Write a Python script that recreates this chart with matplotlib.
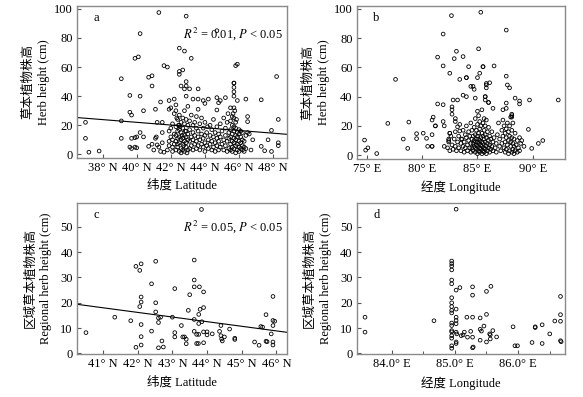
import matplotlib
matplotlib.use('Agg')
import matplotlib.pyplot as plt
from matplotlib.ticker import FixedLocator

plt.rcParams['font.family'] = ['Liberation Serif', 'Noto Sans CJK SC']
plt.rcParams['mathtext.fontset'] = 'stix'

# ---- panel a: latitude vs herb height ----
a_lat = [37.0, 37.0, 37.2, 37.8, 39.1, 39.1, 39.1, 39.6, 39.6, 39.7, 39.9, 40.1, 40.2, 40.2, 40.4,
         39.7, 39.9, 40.0, 40.2, 40.4, 39.6, 39.7, 39.9, 40.0, 40.7, 40.9, 40.9, 41.1, 40.7, 40.9,
         41.1, 41.15, 41.3, 41.2, 41.0, 41.3, 41.4, 41.6, 41.6, 41.8, 41.9, 41.4, 41.5, 41.5, 41.5, 41.2,
         42.9, 42.5, 42.8, 43.2, 42.5, 42.5, 42.7, 42.9, 42.9, 42.6, 42.8, 43.1, 44.7, 43.6, 45.8, 45.9,
         45.7, 45.7, 45.7, 45.7, 42.9, 43.3, 43.6, 43.9, 44.2, 44.7, 44.8, 44.9, 45.2, 45.7, 45.9, 46.4,
         45.5, 45.7, 44.7, 42.2, 42.3, 41.9, 43.6, 44.0, 46.5, 46.5, 47.3, 48.2, 48.3, 47.9, 48.3, 48.3,
         47.7, 47.3, 47.5, 47.9, 46.6, 46.7, 46.8,
         41.8, 41.9, 41.9, 42.0, 42.0, 42.1, 42.1, 42.1, 42.2, 42.2, 42.0, 42.1, 41.9, 42.2,
         42.3, 42.3, 42.3, 42.3, 42.4, 42.4, 42.4, 42.4, 42.5, 42.5, 42.5, 42.5, 42.5, 42.6, 42.6, 42.6,
         42.6, 42.3, 42.4, 42.5, 42.6, 42.45, 42.55, 42.35,
         42.7, 42.7, 42.7, 42.7, 42.7, 42.8, 42.8, 42.8, 42.8, 42.8, 42.9, 42.9, 42.9, 42.9, 42.9, 43.0,
         43.0, 43.0, 43.0, 43.0, 42.75, 42.85, 42.95, 42.65,
         43.1, 43.1, 43.1, 43.1, 43.2, 43.2, 43.2, 43.3, 43.3, 43.3, 43.3, 43.4, 43.4, 43.4, 43.5, 43.5,
         43.5, 43.5, 43.6, 43.6, 43.6,
         43.7, 43.7, 43.7, 43.8, 43.8, 43.8, 43.9, 43.9, 43.9, 44.0, 44.0, 44.0, 44.0, 44.1, 44.1, 44.2,
         44.2, 44.15,
         44.3, 44.3, 44.3, 44.4, 44.4, 44.4, 44.5, 44.5, 44.5, 44.6, 44.6, 44.6, 44.7, 44.7, 44.7, 44.8,
         44.8, 44.8,
         44.9, 44.9, 44.9, 45.0, 45.0, 45.1, 45.1, 45.1, 45.2, 45.2, 45.2, 45.3, 45.3, 45.3, 45.4, 45.4,
         45.4, 45.35,
         45.5, 45.5, 45.5, 45.5, 45.5, 45.6, 45.6, 45.6, 45.6, 45.6, 45.6, 45.7, 45.7, 45.7, 45.7, 45.7,
         45.7, 45.8, 45.8, 45.8, 45.8, 45.8, 45.8, 45.9, 45.9, 45.9, 45.9, 46.0, 46.0, 46.0, 46.0, 46.0,
         46.1, 46.1, 46.1, 46.1, 46.2, 46.2, 46.2, 46.2, 45.75, 45.65, 45.85,
         46.3, 46.3, 46.3, 46.4, 46.4, 46.5]
a_h = [22, 11, 1.5, 2.3, 52, 23, 11, 40.5, 29, 27, 66, 67, 83, 40, 30,
       11, 11.5, 12, 15, 12, 5, 4, 5, 4.5, 53, 54, 47, 31, 5.5, 7,
       11, 12, 97.5, 22, 3, 5, 2, 1.5, 61, 60, 37, 36, 22, 15, 8, 6.5,
       95, 73, 71, 66, 57, 55, 58, 50, 47, 47, 45, 45, 85, 45, 61, 62,
       49, 49, 46, 43, 40, 38, 38, 37, 38, 39, 35.5, 37, 39, 40, 37, 38,
       32, 32, 30.5, 38, 34, 31, 31, 35, 26, 22.5, 37.5, 53.5, 24, 16.5, 8, 6,
       10, 5.5, 2.5, 2, 14, 3, 10,
       3, 6, 9, 12, 18, 5, 10, 21, 14, 28, 32, 2, 16, 7,
       3, 9, 13, 19, 5, 11, 24, 16, 2, 8, 12, 20, 27, 4, 10, 15,
       22, 30, 7, 17, 1, 20, 19, 25,
       3, 7, 11, 18, 25, 2, 9, 13, 21, 30, 5, 8, 12, 16, 24, 3,
       10, 14, 20, 33, 6, 16, 1, 13,
       4, 9, 17, 23, 6, 12, 27, 3, 10, 15, 20, 7, 13, 22, 4, 9,
       18, 26, 6, 12, 16,
       3, 10, 21, 7, 14, 25, 5, 11, 18, 2, 8, 13, 22, 6, 15, 10,
       4, 19,
       7, 13, 20, 3, 9, 17, 5, 12, 24, 2, 8, 15, 6, 11, 19, 3,
       9, 14,
       5, 12, 21, 7, 16, 3, 10, 25, 6, 13, 18, 2, 9, 22, 4, 11,
       15, 28,
       3, 7, 12, 17, 23, 2, 5, 9, 14, 20, 26, 4, 8, 11, 16, 19,
       25, 1, 6, 10, 13, 18, 22, 3, 7, 12, 15, 2, 5, 9, 14, 17,
       4, 8, 12, 16, 3, 6, 10, 15, 30, 28, 24,
       2, 5, 9, 13, 4, 15]
a_fit = [25.3 + 0.935 * 36.5, -0.935]  # intercept, slope

# ---- panel b: longitude vs herb height ----
b_lon = [74.8, 74.9, 75.1, 75.9, 76.9, 77.6, 78.3, 78.7, 78.8, 79.5, 79.5, 80.1, 80.4, 80.5, 80.9,
         80.9, 80.9, 80.9, 81.0, 81.2, 81.2, 81.4, 81.4, 81.9, 81.9, 81.9, 81.9, 82.0, 82.0, 82.4,
         82.4, 82.5, 82.5, 82.65, 82.5, 82.7, 82.7, 82.7, 82.8, 82.9, 83.1, 83.0, 83.0, 83.2, 83.4,
         83.2, 83.4, 83.7, 83.7, 84.0, 84.0, 84.0, 83.55, 84.2, 84.4, 84.6, 84.7, 84.8, 85.0, 85.1,
         85.2, 85.3, 85.5, 85.5, 85.8, 85.8, 85.8, 86.1, 85.7, 85.7, 85.7, 86.0, 86.0, 86.5, 86.4,
         87.6, 87.6, 87.7, 87.9, 87.6, 87.6, 88.1, 88.1, 88.1, 87.3, 88.4, 88.8, 88.8, 89.7, 92.3,
         89.6, 89.9, 90.5, 90.9, 89.2, 88.8, 89.0,
         82.3, 82.4, 82.5, 82.6, 82.7, 82.8, 82.9, 83.0, 83.0, 83.1, 83.2, 83.3, 83.3, 83.4, 83.5, 83.5,
         83.6, 83.7, 83.7, 83.8, 83.8, 83.9, 83.9, 84.0, 84.0, 84.1, 84.1, 84.2, 84.2, 84.3, 84.3, 84.4,
         84.4, 84.4, 84.5, 84.5, 84.5, 84.6, 84.6, 84.6, 84.7, 84.7, 84.7, 84.8, 84.8, 84.8, 84.8, 84.8,
         84.9, 84.9, 84.9, 84.9, 85.0, 85.0, 85.0, 85.0, 85.0, 85.0, 85.1, 85.1, 85.1, 85.1, 85.1, 85.2,
         85.2, 85.2, 85.2, 85.2, 85.3, 85.3, 85.3, 85.3, 85.4, 85.4, 85.4, 85.4, 85.4, 85.5, 85.5, 85.5,
         85.5, 85.6, 85.6, 85.6, 85.6, 85.6, 85.7, 85.7, 85.7, 85.7, 85.8, 85.8, 85.8, 85.8, 85.9, 85.9,
         85.9, 86.0, 86.0, 86.0, 86.1, 86.1, 86.1, 86.2, 86.2, 86.3, 86.3, 86.4, 86.4, 86.5, 86.6, 86.7,
         86.7, 86.8, 86.9, 87.0, 87.0, 87.1, 87.2, 87.2, 87.3, 87.3, 87.4, 87.4, 87.5, 87.5, 87.5, 87.6,
         87.6, 87.6, 87.7, 87.7, 87.8, 87.8, 87.8, 87.9, 87.9, 87.9, 88.0, 88.0, 88.0, 88.1, 88.1, 88.1,
         88.2, 88.2, 88.2, 88.3, 88.3, 88.3, 88.4, 88.4, 88.5, 88.6, 88.6, 88.7, 88.8, 88.9]
b_h = [10.3, 3.4, 5, 1.1, 21.7, 51.8, 11, 4.6, 22.6, 14.7, 11.3, 15, 11.5, 6, 6,
       14, 24, 6, 26, 20, 20, 67, 35, 61, 34.5, 82.8, 23, 20, 6, 9,
       11, 15, 15, 95.4, 56, 33, 31, 28, 37.7, 66, 71, 25, 23, 37.7, 51.8,
       19.4, 16.5, 67.4, 41, 40, 53, 53, 11, 60.5, 47, 47, 45, 39, 53, 72.7,
       56, 97.7, 60.5, 60.5, 49, 48, 46, 49.5, 40, 40, 37.7, 36, 36, 61, 32,
       85.5, 54, 48, 46, 35.6, 32, 27, 26, 28, 31, 39, 37, 35, 37.7, 37.7,
       17.6, 4.6, 8, 10, 6, 12, 10,
       5, 10, 3, 13, 7, 4, 11, 6, 16, 3, 9, 13, 5, 21, 8, 3,
       11, 6, 17, 2, 9, 14, 5, 12, 20, 7, 3, 10, 16, 5, 13, 2,
       8, 22, 11, 5, 17, 3, 8, 13, 6, 10, 19, 2, 5, 9, 14, 25,
       4, 7, 11, 17, 1, 6, 9, 13, 21, 30, 3, 8, 11, 15, 27, 2,
       5, 10, 18, 23, 4, 7, 12, 20, 1, 6, 9, 15, 31, 3, 8, 13,
       22, 2, 5, 11, 17, 25, 4, 9, 14, 20, 1, 6, 12, 24, 3, 8,
       16, 5, 10, 19, 2, 7, 13, 4, 11, 6, 16, 3, 9, 12, 5, 2,
       8, 14, 22, 6, 11, 3, 17, 8, 24, 13, 5, 20, 2, 9, 15, 12,
       18, 4, 7, 22, 1, 10, 16, 3, 13, 20, 6, 9, 26, 2, 12, 17,
       4, 8, 22, 1, 6, 11, 3, 15, 7, 2, 10, 5, 3, 8]

# ---- panel c: latitude vs regional herb height ----
c_lat = [40.51, 41.34, 41.8, 41.95, 42.06, 42.1, 42.06, 42.1, 42.1, 42.1, 42.1, 42.1, 41.95,
         42.4, 42.4, 42.52, 42.52, 42.52, 42.6, 42.6, 42.66, 42.6, 42.7, 42.74, 43.0, 43.07,
         43.07, 43.07, 43.26, 43.3, 43.35, 43.4, 43.4, 43.46, 43.5, 43.63, 43.63, 43.63, 43.63,
         43.63, 43.7, 43.75, 43.7, 43.76, 43.76, 43.76, 43.78, 43.8, 43.85, 43.9, 43.9, 43.9,
         43.9, 43.84, 44.0, 44.0, 44.15, 44.36, 44.4, 44.4, 44.42, 44.44, 44.5, 44.65, 44.8,
         44.8, 45.37, 45.5, 45.55, 45.6, 45.7, 45.7, 45.73, 45.85, 45.9, 45.9, 45.95, 45.9,
         45.9, 45.9]
c_h = [8.2, 14.3, 12.9, 34.4, 32.8, 35.4, 18.5, 22.3, 20.3, 11.4, 6.6, 3.3, 2.4,
       27.5, 8.8, 36.4, 20, 16.4, 12.2, 14, 14.3, 2.2, 4.9, 2.5, 14.3, 25.6,
       8.2, 6.5, 11, 6.5, 6.5, 5.6, 3.8, 17, 23.2, 36.9, 29, 26.3, 13.4,
       8.7, 3.9, 3.9, 7.5, 7.5, 11.8, 15.4, 26.3, 17.4, 12.5, 24.3, 18.1, 4.2,
       8.5, 56.9, 8.5, 7.3, 7.7, 8.7, 11, 7, 5.7, 4.9, 6.5, 9.6, 6,
       5.5, 4.5, 3.2, 10.6, 10.4, 15.3, 4.8, 4.6, 7.7, 22.5, 13, 12.7, 11,
       4.5, 3.3]
c_fit = [19.4 + 1.83 * 40.25, -1.83]  # intercept, slope

# ---- panel d: longitude vs regional herb height ----
d_lon = [83.58, 83.58, 84.67,
         84.95, 84.95, 84.95, 84.95, 84.95, 84.95, 84.95, 84.95, 84.95, 84.95, 84.95, 84.95,
         84.95, 84.95, 84.95, 84.95, 84.95, 84.95, 84.95,
         85.02, 85.02, 85.02, 85.08, 85.02, 85.02, 85.02, 85.02, 85.03, 85.02, 85.02,
         85.1, 85.13, 85.15, 85.19, 85.2, 85.25, 85.28, 85.28, 85.28, 85.28, 85.29, 85.28,
         85.4, 85.4, 85.42, 85.4, 85.46, 85.5, 85.5, 85.5, 85.57, 85.55, 85.56, 85.56,
         85.6, 85.66, 85.92, 85.95, 85.99, 86.22, 86.27, 86.27, 86.38, 86.38, 86.5, 86.58,
         86.67, 86.67, 86.67, 86.67, 86.68]
d_h = [14.3, 8.4, 12.9,
       36.5, 35.5, 34.5, 33, 29, 27.5, 22, 20, 18.5, 17, 16, 12,
       11, 9, 8.5, 7, 6, 3, 2,
       57, 17.5, 25, 26, 14.3, 13, 11.7, 8.4, 7.7, 4.5, 3.9,
       7, 7.3, 8.4, 14.3, 6.4, 8.7, 26.3, 23, 14.3, 6.4, 2.5, 2.2,
       14, 9.5, 8.8, 5.2, 10.8, 24.5, 15.4, 4.5, 26.5, 7.7, 7.3, 5.7,
       9, 6.5, 10.5, 3, 3, 4.3, 10.5, 10.2, 11.3, 3.9, 7.7, 12.8,
       22.5, 15.3, 12.7, 5, 4.6]

a_ticks = [38, 40, 42, 44, 46, 48]
b_ticks = [75, 80, 85, 90]
c_ticks = [41, 42, 43, 44, 45, 46]
d_ticks = [84.0, 85.0, 86.0]
d_minor = [84.5, 85.5, 86.5]

fig = plt.figure(figsize=(5.83, 3.97), dpi=100)
axa = fig.add_axes([0.132, 0.602, 0.360, 0.383])
axb = fig.add_axes([0.612, 0.600, 0.357, 0.385])
axc = fig.add_axes([0.132, 0.108, 0.360, 0.381])
axd = fig.add_axes([0.612, 0.108, 0.357, 0.381])

frame = '#8a8a8a'
for ax in (axa, axb, axc, axd):
    for sp in ax.spines.values():
        sp.set_color(frame)
        sp.set_linewidth(1.0)
    ax.tick_params(direction='in', length=3, width=0.8, color='#555555',
                   labelsize=9, pad=3)
    ax.tick_params(which='minor', direction='in', length=2, width=0.7, color='#555555')

mk = dict(s=7, facecolors='none', edgecolors='black', linewidths=0.6, zorder=3)
axa.scatter(a_lat, a_h, **mk)
axb.scatter(b_lon, b_h, **mk)
axc.scatter(c_lat, c_h, **mk)
axd.scatter(d_lon, d_h, **mk)

axa.set_xlim(36.5, 48.8)
axa.set_ylim(-2.5, 102)
xs = [36.5, 48.8]
axa.plot(xs, [a_fit[0] + a_fit[1] * x for x in xs], color='black', lw=0.8, zorder=2)
axb.set_xlim(74.1, 92.9)
axb.set_ylim(-2.5, 102)
axc.set_xlim(40.25, 46.3)
axc.set_ylim(-0.3, 59.5)
xs = [40.25, 46.3]
axc.plot(xs, [c_fit[0] + c_fit[1] * x for x in xs], color='black', lw=0.8, zorder=2)
axd.set_xlim(83.45, 86.74)
axd.set_ylim(-0.3, 59.5)

axa.set_xticks(a_ticks)
axa.set_xticklabels([f'{t}° N' for t in a_ticks])
axa.set_yticks([0, 20, 40, 60, 80, 100])
axb.set_xticks(b_ticks)
axb.set_xticklabels([f'{t}° E' for t in b_ticks])
axb.set_yticks([0, 20, 40, 60, 80, 100])
axc.set_xticks(c_ticks)
axc.set_xticklabels([f'{t}° N' for t in c_ticks])
axc.set_yticks([0, 10, 20, 30, 40, 50])
axd.set_xticks(d_ticks)
axd.set_xticklabels([f'{t:.1f}° E' for t in d_ticks])
axd.xaxis.set_minor_locator(FixedLocator(d_minor))
axd.set_yticks([0, 10, 20, 30, 40, 50])

axa.set_ylabel('草本植物株高\nHerb height (cm)', fontsize=9, linespacing=1.4, labelpad=3)
axb.set_ylabel('草本植物株高\nHerb height (cm)', fontsize=9, linespacing=1.4, labelpad=3)
axc.set_ylabel('区域草本植物株高\nRegional herb height (cm)', fontsize=9, linespacing=1.4, labelpad=6)
axd.set_ylabel('区域草本植物株高\nRegional herb height (cm)', fontsize=9, linespacing=1.4, labelpad=6)
axa.set_xlabel('纬度 Latitude', fontsize=9, labelpad=4)
axb.set_xlabel('经度 Longitude', fontsize=9, labelpad=4)
axc.set_xlabel('纬度 Latitude', fontsize=9, labelpad=4)
axd.set_xlabel('经度 Longitude', fontsize=9, labelpad=4)

for ax, letter in ((axa, 'a'), (axb, 'b'), (axc, 'c'), (axd, 'd')):
    ax.text(0.08, 0.92, letter, transform=ax.transAxes, fontsize=9, va='center', ha='left')

axa.text(0.98, 0.82, r'$R^2$ = 0.01, $P$ < 0.05', transform=axa.transAxes,
         fontsize=9, ha='right', va='center')
axc.text(0.98, 0.84, r'$R^2$ = 0.05, $P$ < 0.05', transform=axc.transAxes,
         fontsize=9, ha='right', va='center')

fig.savefig('out.png', dpi=100)
